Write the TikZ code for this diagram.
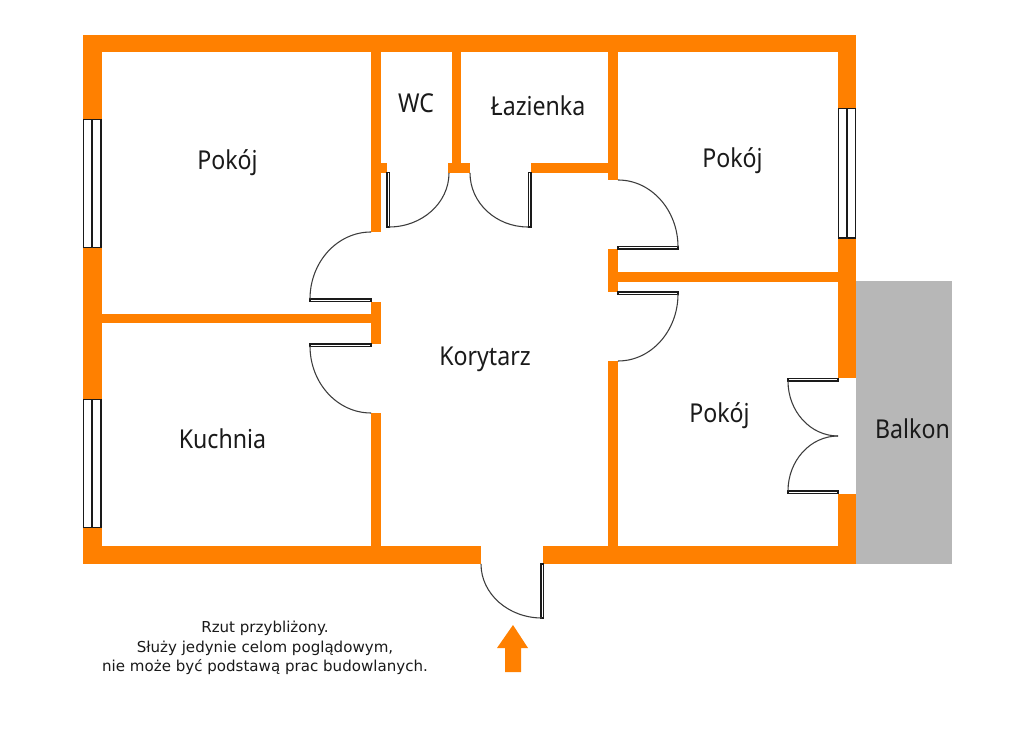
\documentclass[tikz,border=0pt]{standalone}
\usepackage{fontspec}
\setmainfont{Noto Sans}
\newfontfamily\notefont{DejaVu Sans}
\newfontfamily\roomfont[FakeStretch=0.89]{Noto Sans}
\usetikzlibrary{calc}
\definecolor{wallc}{HTML}{FF8000}
\definecolor{balc}{HTML}{B7B7B7}
\definecolor{inkc}{HTML}{1A1A1A}
\tikzset{
  wall/.style={fill=wallc,draw=none},
  leaf/.style={fill=white,draw=inkc,line width=0.95pt},
  swing/.style={draw=inkc!85!white,line width=0.8pt},
  room/.style={font=\roomfont\fontsize{19.5}{22}\selectfont,text=inkc,inner sep=0pt},
  note/.style={font=\notefont\fontsize{11.3}{14.6}\selectfont,text=inkc,align=center,inner sep=0pt},
}
\newcommand{\qarc}[6]{\draw[swing] (#1,#2) .. controls ($(#1,#2)!0.5523!(#3,#4)$) and ($(#5,#6)!0.5523!(#3,#4)$) .. (#5,#6);}
\newcommand{\wl}[4]{\fill[wall] (#1,#2) rectangle (#3,#4);}
\begin{document}
\begin{tikzpicture}[x=0.75pt,y=-0.75pt]
\useasboundingbox (0,0) rectangle (1024,730);
\fill[white] (0,0) rectangle (1024,730);
% balcony
\fill[balc] (856,281) rectangle (952,564);
% outer walls
\wl{83}{35}{856}{52}
\wl{83}{35}{102}{564}
\wl{83}{546}{481}{564}
\wl{543}{546}{856}{564}
\wl{838}{35}{856}{378}
\wl{838}{494}{856}{564}
% inner walls
\wl{371}{52}{381}{232}
\wl{381}{163}{387}{173}
\wl{452}{52}{461}{163}
\wl{448}{163}{470}{173}
\wl{608}{52}{618}{180}
\wl{531}{163}{608}{173}
\wl{608}{249}{618}{292}
\wl{618}{272}{838}{282}
\wl{608}{361}{618}{546}
\wl{102}{314}{371}{323}
\wl{371}{302}{381}{344}
\wl{371}{413}{381}{546}
% windows
\draw[leaf] (83.5,119.5) rectangle (101,247.5); \draw[leaf] (92,119.5) -- (92,247.5);
\draw[leaf] (83.5,399.5) rectangle (101,527.5); \draw[leaf] (92,399.5) -- (92,527.5);
\draw[leaf] (838.5,108.5) rectangle (855.5,238); \draw[leaf] (847,108.5) -- (847,238);
% door leaves
\draw[leaf] (387,172.5) rectangle (389.5,227);
\draw[leaf] (528.5,172.5) rectangle (531,227);
\draw[leaf] (618,246.5) rectangle (678,249);
\draw[leaf] (618,292) rectangle (678,294.5);
\draw[leaf] (310,299) rectangle (371,301.5);
\draw[leaf] (310,344) rectangle (371,346.5);
\draw[leaf] (788,378.5) rectangle (838,381);
\draw[leaf] (788,491) rectangle (838,493.5);
\draw[leaf] (541,564) rectangle (543.5,618);
% door swings
\qarc{389}{227}{449}{227}{449}{173}
\qarc{528}{227}{470}{227}{470}{173}
\qarc{618}{180}{678}{180}{678}{247}
\qarc{678}{294}{678}{361}{618}{361}
\qarc{310}{299}{310}{232}{371}{232}
\qarc{310}{346}{310}{413}{371}{413}
\qarc{788}{381}{788}{436}{838}{436}
\qarc{788}{491}{788}{436}{838}{436}
\qarc{481}{564}{481}{618}{542}{618}
% entry arrow
\fill[wallc] (513,625) -- (528,648) -- (521,648) -- (521,672) -- (505,672) -- (505,648) -- (497,648) -- cycle;
% labels
\node[room] (pokoj1) at (227.5,163) {Pokój};
\node[room] (wc) at (416,103.5) {WC};
\node[room] (laz) at (538,105.5) {Łazienka};
\node[room] (pokoj2) at (732.5,161) {Pokój};
\node[room] (kor) at (485,359) {Korytarz};
\node[room] (pokoj3) at (719.5,416) {Pokój};
\node[room] (kuch) at (222.5,439) {Kuchnia};
\node[room] (balk) at (912.5,429) {Balkon};
\node[note] (uwaga) at (265,648) {Rzut przybliżony.\\Służy jedynie celom poglądowym,\\nie może być podstawą prac budowlanych.};
\end{tikzpicture}
\end{document}
